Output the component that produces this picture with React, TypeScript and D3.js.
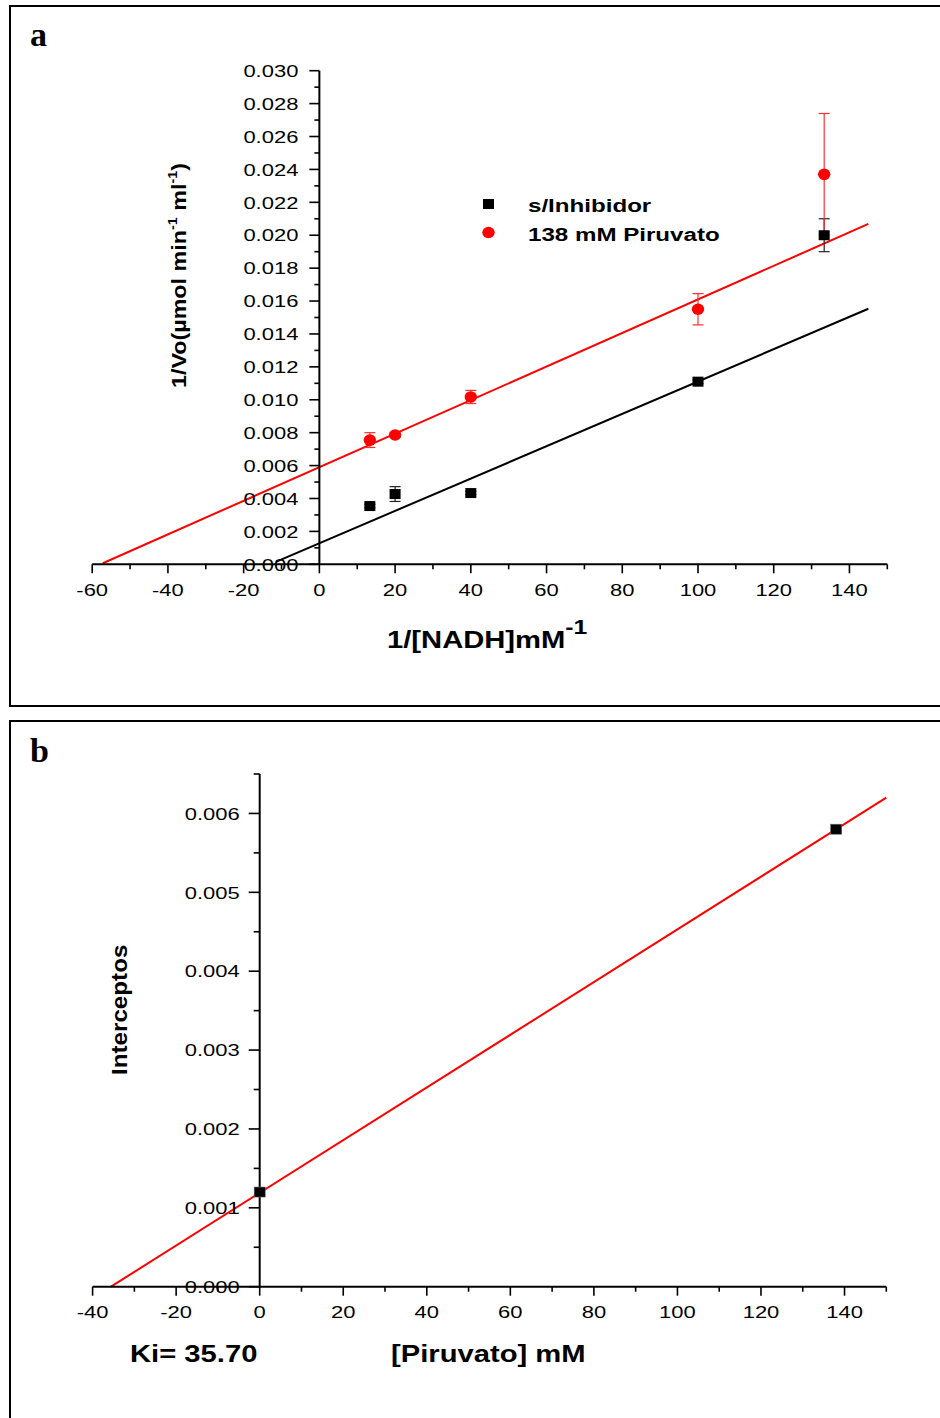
import React from "react";
import * as d3 from "d3";

// ---------- Panel a data ----------
const nadhInv = [13.33, 20, 40, 100, 133.33];
const noInhibitor = [0.00354, 0.00427, 0.00433, 0.0111, 0.02];
const noInhibitorErr = [0.0001, 0.00045, 0.0001, 0.0001, 0.001];
const piruvato138 = [0.00755, 0.00786, 0.01017, 0.0155, 0.0237];
const piruvato138Err = [0.00045, 0.00015, 0.0004, 0.00095, 0.0037];
// linear fits: [intercept, slope], x range
const fitNoInhibitor = [0.00128, 0.0000983];
const fitNoInhibitorRange = [-11.5, 145];
const fitPiruvato = [0.0059, 0.000102];
const fitPiruvatoRange = [-57.2, 145];
const xTicksA = [-60, -40, -20, 0, 20, 40, 60, 80, 100, 120, 140];
const xMinorA = [-50, -30, -10, 10, 30, 50, 70, 90, 110, 130, 150];
const yTicksA = d3.range(0, 16).map((i) => i * 0.002);
const yMinorA = d3.range(0, 15).map((i) => i * 0.002 + 0.001);
const legendLabels = ["s/Inhibidor", "138 mM Piruvato"];

// ---------- Panel b data ----------
const piruvatoConc = [0, 138];
const interceptos = [0.0012, 0.0058];
const fitInterceptos = [0.00119, 0.0000334];
const fitInterceptosRange = [-35.6, 150];
const xTicksB = [-40, -20, 0, 20, 40, 60, 80, 100, 120, 140];
const xMinorB = [-30, -10, 10, 30, 50, 70, 90, 110, 130, 150];
const yTicksB = d3.range(0, 7).map((i) => i * 0.001);
const yMinorB = d3.range(0, 7).map((i) => i * 0.001 + 0.0005);
const kiText = "Ki= 35.70";

const FONT = "'Liberation Sans', Arial, Helvetica, sans-serif";

type TProps = {
  x: number;
  y: number;
  size: number;
  sx?: number;
  anchor?: "start" | "middle" | "end";
  bold?: boolean;
  rot?: number;
  family?: string;
  children: React.ReactNode;
};
const T = ({ x, y, size, sx = 1.27, anchor = "start", bold = false, rot, family = FONT, children }: TProps) => (
  <text
    transform={`translate(${x},${y})${rot ? ` rotate(${rot})` : ""} scale(${sx},1)`}
    fontSize={size}
    fontFamily={family}
    fontWeight={bold ? "bold" : "normal"}
    textAnchor={anchor}
    fill="#000"
  >
    {children}
  </text>
);

export default function App() {
  // scales panel a
  const xA = d3.scaleLinear().domain([-60, 150]).range([92.2, 887.3]);
  const yA = d3.scaleLinear().domain([0, 0.03]).range([564.3, 70.7]);
  // scales panel b
  const xB = d3.scaleLinear().domain([-40, 150]).range([92.6, 886.3]);
  const yB = d3.scaleLinear().domain([0, 0.0065]).range([1286.7, 774]);

  const fitLine = (
    xs: d3.ScaleLinear<number, number>,
    ys: d3.ScaleLinear<number, number>,
    p: number[],
    r: number[]
  ) =>
    d3
      .line<number>()
      .x((d) => xs(d))
      .y((d) => ys(p[0] + p[1] * d))(r) as string;

  const ax = { stroke: "#000", strokeWidth: 2, fill: "none" };
  const tk = { stroke: "#000", strokeWidth: 1.6 };

  const axisA0x = xA(0);
  const axisA0y = yA(0);
  const axisB0x = xB(0);
  const axisB0y = yB(0);

  return (
    <svg
      width={940}
      height={1418}
      style={{ position: "absolute", left: 0, top: 0, background: "#fff" }}
    >
      <rect x={0} y={0} width={940} height={1418} fill="#fff" />
      {/* frames */}
      <path d="M940,6 H10 V706 H940" {...ax} />
      <path d="M940,721 H10 V1418" {...ax} />

      {/* ================= Panel a ================= */}
      <T x={30} y={46} size={34} sx={1.0} bold family="'Liberation Serif', 'Times New Roman', serif">
        a
      </T>

      {/* fit lines */}
      <path d={fitLine(xA, yA, fitNoInhibitor, fitNoInhibitorRange)} stroke="#000" strokeWidth={2} fill="none" />
      <path d={fitLine(xA, yA, fitPiruvato, fitPiruvatoRange)} stroke="#ff0000" strokeWidth={2} fill="none" />

      {/* axes */}
      <line x1={xA(-60)} x2={xA(150)} y1={axisA0y} y2={axisA0y} {...ax} />
      <line x1={axisA0x} x2={axisA0x} y1={axisA0y} y2={yA(0.03)} {...ax} />
      {xTicksA.map((v) => (
        <g key={"xa" + v}>
          <line x1={xA(v)} x2={xA(v)} y1={axisA0y} y2={axisA0y + 9} {...tk} />
          <T x={xA(v)} y={axisA0y + 31.5} size={17.3} anchor="middle">
            {v}
          </T>
        </g>
      ))}
      {xMinorA.map((v) => (
        <line key={"xam" + v} x1={xA(v)} x2={xA(v)} y1={axisA0y} y2={axisA0y + 5} {...tk} />
      ))}
      {yTicksA.map((v) => (
        <g key={"ya" + v}>
          <line x1={axisA0x - 10} x2={axisA0x} y1={yA(v)} y2={yA(v)} {...tk} />
          <T x={axisA0x - 21} y={yA(v) + 6.2} size={17.3} anchor="end">
            {v.toFixed(3)}
          </T>
        </g>
      ))}
      {yMinorA.map((v) => (
        <line key={"yam" + v} x1={axisA0x - 5} x2={axisA0x} y1={yA(v)} y2={yA(v)} {...tk} />
      ))}

      {/* error bars */}
      {nadhInv.map((x, i) => {
        const cx = xA(x);
        const e = noInhibitorErr[i];
        const v = noInhibitor[i];
        return (
          <g key={"eb" + i} stroke="#222" strokeWidth={1.2}>
            <line x1={cx} x2={cx} y1={yA(v - e)} y2={yA(v + e)} />
            <line x1={cx - 5.5} x2={cx + 5.5} y1={yA(v - e)} y2={yA(v - e)} />
            <line x1={cx - 5.5} x2={cx + 5.5} y1={yA(v + e)} y2={yA(v + e)} />
          </g>
        );
      })}
      {nadhInv.map((x, i) => {
        const cx = xA(x);
        const e = piruvato138Err[i];
        const v = piruvato138[i];
        return (
          <g key={"er" + i} stroke="#ff3030" strokeWidth={1.2}>
            <line x1={cx} x2={cx} y1={yA(v - e)} y2={yA(v + e)} />
            <line x1={cx - 5.5} x2={cx + 5.5} y1={yA(v - e)} y2={yA(v - e)} />
            <line x1={cx - 5.5} x2={cx + 5.5} y1={yA(v + e)} y2={yA(v + e)} />
          </g>
        );
      })}

      {/* markers */}
      {nadhInv.map((x, i) => (
        <rect key={"sq" + i} x={xA(x) - 5.5} y={yA(noInhibitor[i]) - 5} width={11} height={10} fill="#000" />
      ))}
      {nadhInv.map((x, i) => (
        <ellipse key={"ci" + i} cx={xA(x)} cy={yA(piruvato138[i])} rx={6.2} ry={5.8} fill="#ff0000" />
      ))}

      {/* legend */}
      <rect x={483} y={199} width={11} height={10} fill="#000" />
      <ellipse cx={488.5} cy={232.5} rx={6.2} ry={5.8} fill="#ff0000" />
      <T x={528} y={212} size={19} bold>
        {legendLabels[0]}
      </T>
      <T x={528} y={241} size={19} bold>
        {legendLabels[1]}
      </T>

      {/* axis titles */}
      <text
        transform={`translate(387,648) scale(1.27,1)`}
        fontSize={23}
        fontFamily={FONT}
        fontWeight="bold"
      >
        1/[NADH]mM
        <tspan fontSize={19.5} dy={-14}>
          -1
        </tspan>
      </text>
      <text
        transform={`translate(186,388) rotate(-90) scale(1.11,1)`}
        fontSize={21}
        fontFamily={FONT}
        fontWeight="bold"
      >
        1/Vo(µmol min
        <tspan fontSize={13} dy={-9}>
          -1
        </tspan>
        <tspan dy={9}> ml</tspan>
        <tspan fontSize={13} dy={-9}>
          -1
        </tspan>
        <tspan dy={9}>)</tspan>
      </text>

      {/* ================= Panel b ================= */}
      <T x={30} y={762} size={34} sx={1.0} bold family="'Liberation Serif', 'Times New Roman', serif">
        b
      </T>

      <path d={fitLine(xB, yB, fitInterceptos, fitInterceptosRange)} stroke="#ff0000" strokeWidth={2} fill="none" />

      <line x1={xB(-40)} x2={xB(150)} y1={axisB0y} y2={axisB0y} {...ax} />
      <line x1={axisB0x} x2={axisB0x} y1={axisB0y} y2={yB(0.0065)} {...ax} />
      {xTicksB.map((v) => (
        <g key={"xb" + v}>
          <line x1={xB(v)} x2={xB(v)} y1={axisB0y} y2={axisB0y + 9} {...tk} />
          <T x={xB(v)} y={axisB0y + 31.5} size={17.3} anchor="middle">
            {v}
          </T>
        </g>
      ))}
      {xMinorB.map((v) => (
        <line key={"xbm" + v} x1={xB(v)} x2={xB(v)} y1={axisB0y} y2={axisB0y + 5} {...tk} />
      ))}
      {yTicksB.map((v) => (
        <g key={"yb" + v}>
          <line x1={axisB0x - 11} x2={axisB0x} y1={yB(v)} y2={yB(v)} {...tk} />
          <T x={axisB0x - 20} y={yB(v) + 6.2} size={17.3} anchor="end">
            {v.toFixed(3)}
          </T>
        </g>
      ))}
      {yMinorB.map((v) => (
        <line key={"ybm" + v} x1={axisB0x - 6} x2={axisB0x} y1={yB(v)} y2={yB(v)} {...tk} />
      ))}

      {piruvatoConc.map((x, i) => (
        <rect key={"sb" + i} x={xB(x) - 5.5} y={yB(interceptos[i]) - 5} width={11} height={10} fill="#000" stroke="#666" strokeWidth={0.6} />
      ))}

      <text
        transform={`translate(127,1075) rotate(-90) scale(1.1,1)`}
        fontSize={22}
        fontFamily={FONT}
        fontWeight="bold"
      >
        Interceptos
      </text>
      <T x={130} y={1362} size={23} bold>
        {kiText}
      </T>
      <T x={391} y={1362} size={23} bold>
        [Piruvato] mM
      </T>
    </svg>
  );
}
